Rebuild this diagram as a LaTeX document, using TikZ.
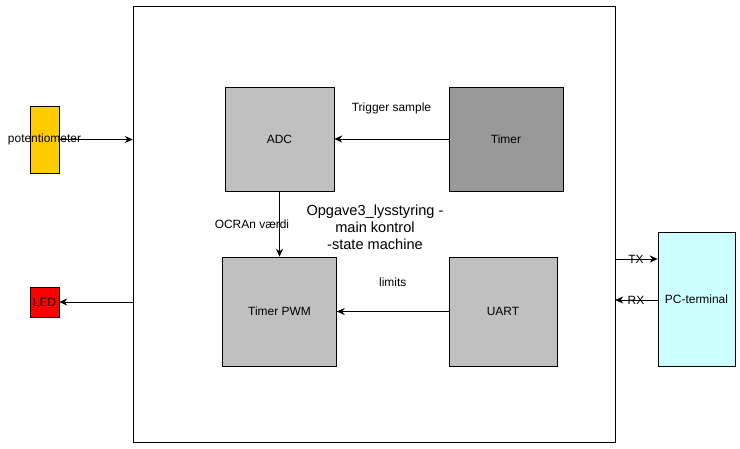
\documentclass[tikz,border=0pt]{standalone}
\usepackage{fontspec}
\setmainfont{Liberation Sans}
\usepackage{xcolor}
\usetikzlibrary{positioning, arrows.meta}

\definecolor{boxgray}{HTML}{C0C0C0}
\definecolor{timergray}{HTML}{999999}
\definecolor{potyellow}{HTML}{FFCC00}
\definecolor{pccyan}{HTML}{CCFFFF}

\begin{document}
\begin{tikzpicture}[x=0.02cm, y=-0.02cm,
    block/.style={draw=black, fill=boxgray, inner sep=0pt, font=\fontsize{6.8}{8}\selectfont},
    small/.style={inner sep=0pt, font=\fontsize{6.8}{8}\selectfont},
    link/.style={-{Stealth[length=4.5pt, width=4pt]}, thin}]
            \useasboundingbox[fill=white] (0, 0) rectangle (740, 449);

            \node[draw=black, minimum width=9.64cm, minimum height=8.72cm] (main) at (374, 224) {};
            \node[small, align=center, font=\fontsize{8.3}{9.6}\selectfont] (title) at (375, 227) {Opgave3\_lysstyring -\\main kontrol\\-state machine};

            \node[block, minimum width=2.18cm, minimum height=2.08cm] (adc) at (279.5, 139) {ADC};
            \node[block, fill=timergray, minimum width=2.28cm, minimum height=2.08cm] (timer) at (506, 139) {Timer};
            \node[block, minimum width=2.28cm, minimum height=2.18cm] (pwm) at (279.5, 311.5) {Timer PWM};
            \node[block, minimum width=2.16cm, minimum height=2.18cm] (uart) at (503, 311.5) {UART};

            \node[block, fill=potyellow, minimum width=0.58cm, minimum height=1.34cm, label={[small]center:potentiometer}] (pot) at (44.5, 139.5) {};
            \node[block, fill=red, minimum width=0.58cm, minimum height=0.6cm] (led) at (44.5, 302) {LED};
            \node[block, fill=pccyan, minimum width=1.54cm, minimum height=2.68cm] (pc) at (696.5, 299) {PC-terminal};

            \coordinate (tx) at (636, 259);
            \coordinate (rx) at (636, 300);

            \draw[link] (timer.west) -- (adc.east) node[small, midway, above=14pt] (trig) {Trigger sample};
            \draw[link] (uart.west) -- (pwm.east) node[small, midway, above=14pt] (lim) {limits};
            \draw[link] (adc.south) -- (pwm.north) node[small, midway, left=-5.7pt] (ocr) {OCRAn v\ae rdi};

            \draw[link] (pot.east) -- (pot.east -| main.west);
            \draw[link] (led.east -| main.west) -- (led.east);
            \draw[link] (tx -| main.east) -- (tx -| pc.west);
            \draw[link] (rx -| pc.west) -- (rx -| main.east);
            \node[small] (txlabel) at (tx) {TX};
            \node[small] (rxlabel) at (rx) {RX};
        \end{tikzpicture}
\end{document}
